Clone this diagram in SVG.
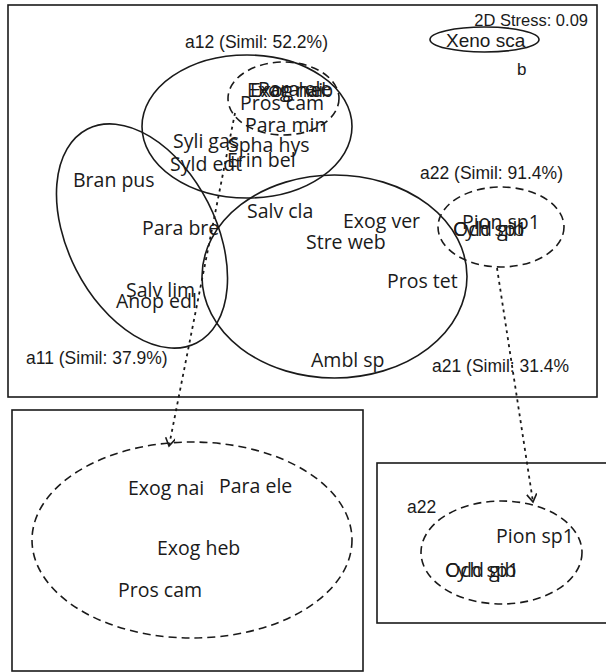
<svg xmlns="http://www.w3.org/2000/svg" width="606" height="672" viewBox="0 0 606 672">
<style>
.box{fill:none;stroke:#1a1a1a;stroke-width:1.6}
.sol{fill:none;stroke:#1a1a1a;stroke-width:1.6}
.dash{fill:none;stroke:#1a1a1a;stroke-width:1.6;stroke-dasharray:8 5}
.dot{fill:none;stroke:#1a1a1a;stroke-width:1.8;stroke-dasharray:3 4}
.sp{font-family:"Open Sans","Noto Sans",sans-serif;font-size:19.5px;fill:#1a1a1a}
.lb{font-family:"Liberation Sans",Arial,sans-serif;font-size:17.5px;fill:#1a1a1a}
</style>
<defs>
<marker id="arr" markerWidth="12" markerHeight="12" refX="9" refY="5" orient="auto" markerUnits="userSpaceOnUse">
<path d="M1,0 L9,5 L1,10" fill="none" stroke="#1a1a1a" stroke-width="1.6"/>
</marker>
</defs>
<rect width="606" height="672" fill="#fff"/>
<g id="panel-main">
<rect class="box" x="8" y="5" width="589" height="392"/>
<text class="lb" x="588" y="26" text-anchor="end" style="font-size:16.5px">2D Stress: 0.09</text>
</g>
<g id="xeno">
<ellipse class="sol" cx="484.5" cy="39.5" rx="54.5" ry="12.5"/>
<text class="lb" x="446" y="47" style="font-size:19px">Xeno sca</text>
<text class="lb" x="517" y="75" style="font-size:17px">b</text>
</g>
<g id="a11">
<ellipse class="sol" cx="142" cy="236" rx="120" ry="74" transform="rotate(63 142 236)"/>
<text class="lb" x="26" y="364">a11 (Simil: 37.9%)</text>
<text class="sp" x="73" y="187">Bran pus</text>
<text class="sp" x="142" y="235">Para bre</text>
<text class="sp" x="126" y="297">Salv lim</text>
<text class="sp" x="116" y="308">Anop edl</text>
</g>
<g id="a12">
<ellipse class="sol" cx="247" cy="126.5" rx="105" ry="71.5"/>
<text class="lb" x="185" y="48">a12 (Simil: 52.2%)</text>
<text class="sp" x="173" y="148">Syli gas</text>
<text class="sp" x="170" y="171">Syld edt</text>
<text class="sp" x="245" y="132">Para min</text>
<text class="sp" x="228" y="152">Spha hys</text>
<text class="sp" x="227" y="167">Erin bel</text>
</g>
<g id="a12-sub">
<ellipse class="dash" cx="283.5" cy="98.5" rx="55.5" ry="36.5"/>
<text class="sp" x="247" y="97">Exog nai</text>
<text class="sp" x="250" y="97">Exog heb</text>
<text class="sp" x="258" y="96">Para ele</text>
<text class="sp" x="240" y="110">Pros cam</text>
</g>
<g id="a21">
<ellipse class="sol" cx="334.5" cy="276.5" rx="132.5" ry="101.5"/>
<text class="lb" x="432" y="372">a21 (Simil: 31.4%</text>
<text class="sp" x="247" y="218">Salv cla</text>
<text class="sp" x="343" y="228">Exog ver</text>
<text class="sp" x="306" y="249">Stre web</text>
<text class="sp" x="387" y="288">Pros tet</text>
<text class="sp" x="311" y="367">Ambl sp</text>
</g>
<g id="a22">
<ellipse class="dash" cx="501" cy="227" rx="63" ry="40"/>
<text class="lb" x="420" y="179">a22 (Simil: 91.4%)</text>
<text class="sp" x="462" y="229">Pion sp1</text>
<text class="sp" x="453" y="236">Cyld gib</text>
<text class="sp" x="453" y="236">Och sp1</text>
</g>
<g id="panel-a12-detail">
<rect class="box" x="12" y="410" width="351" height="261"/>
<ellipse class="dash" cx="192" cy="540" rx="160" ry="98"/>
<text class="sp" x="128" y="495">Exog nai</text>
<text class="sp" x="219" y="493">Para ele</text>
<text class="sp" x="157" y="555">Exog heb</text>
<text class="sp" x="118" y="597">Pros cam</text>
</g>
<g id="panel-a22-detail">
<rect class="box" x="377" y="463" width="232" height="160"/>
<ellipse class="dash" cx="501.5" cy="552.5" rx="80.5" ry="51.5"/>
<text class="lb" x="407" y="513">a22</text>
<text class="sp" x="496" y="543">Pion sp1</text>
<text class="sp" x="445" y="577">Cyld gib</text>
<text class="sp" x="445" y="577">Och sp1</text>
</g>
<g id="connectors">
<line class="dot" x1="235" y1="113" x2="169" y2="446" marker-end="url(#arr)"/>
<line class="dot" x1="497" y1="268" x2="533" y2="502" marker-end="url(#arr)"/>
</g>
</svg>
